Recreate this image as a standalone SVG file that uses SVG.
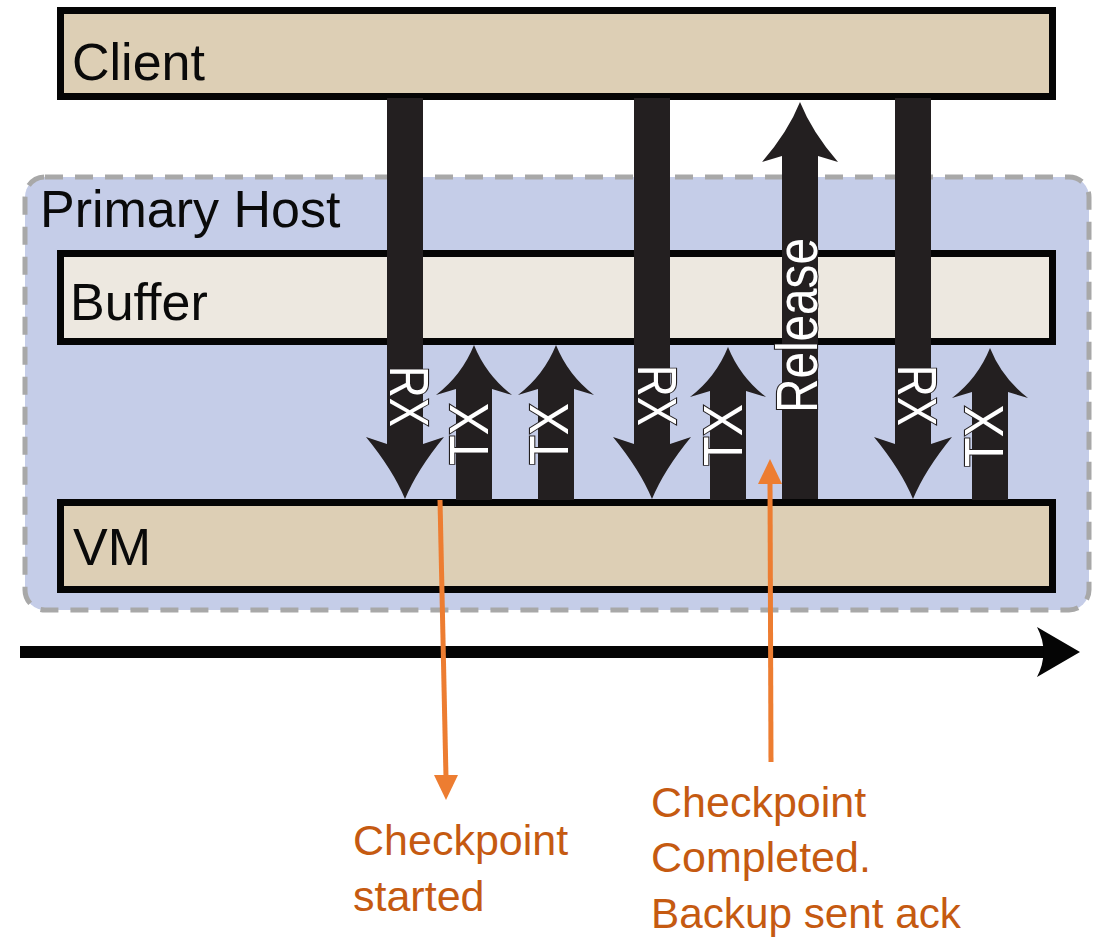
<svg xmlns="http://www.w3.org/2000/svg" width="1096" height="940" viewBox="0 0 1096 940">
  <style>
    .box { stroke: #050505; stroke-width: 7; }
    .tan { fill: #DDCFB5; }
    .light { fill: #EDE8E0; }
    .title { font-family: "Liberation Sans", Arial, sans-serif; font-size: 52px; fill: #0a0a0a; }
    .flow { fill: #231F20; }
    .flowlabel { font-family: "Liberation Sans", Arial, sans-serif; fill: #ffffff; stroke: #231F20; stroke-width: 2.2; paint-order: stroke; }
    .note { font-family: "Liberation Sans", Arial, sans-serif; font-size: 43px; fill: #C55A11; }
    .orange { stroke: #ED7D31; stroke-width: 5; fill: none; }
    .orangehead { fill: #ED7D31; }
  </style>

  <rect width="1096" height="940" fill="#ffffff"/>

  <!-- host enclosure -->
  <g id="primary-host">
    <rect x="25" y="177" width="1064" height="433" rx="20" ry="20" fill="#C5CDE8" stroke="#A8A8A8" stroke-width="5" stroke-dasharray="18 12"/>
    <text class="title" x="40" y="227">Primary Host</text>
  </g>

  <g id="client">
    <rect class="box tan" x="60.5" y="10.5" width="992" height="86"/>
    <text class="title" x="72" y="80">Client</text>
  </g>

  <g id="buffer">
    <rect class="box light" x="60.5" y="253.5" width="992" height="88"/>
    <text class="title" x="70" y="320">Buffer</text>
  </g>

  <g id="vm">
    <rect class="box tan" x="60.5" y="502.5" width="992" height="87"/>
    <text class="title" x="73" y="565">VM</text>
  </g>

  <!-- packet flows -->
  <g id="connectors">
    <!-- RX: client to VM -->
    <path class="flow" d="M387,98 H423 V444 L444,437 Q417,470 405,499 Q393,470 366,437 L387,444 Z"/>
    <path class="flow" d="M634,98 H670 V444 L691,437 Q664,470 652,499 Q640,470 613,437 L634,444 Z"/>
    <path class="flow" d="M895,98 H931 V444 L952,437 Q925,470 913,499 Q901,470 874,437 L895,444 Z"/>

    <!-- TX: VM to buffer -->
    <path class="flow" d="M456,500 V389 L436,395 Q462,375 474,345 Q486,375 512,395 L492,389 V500 Z"/>
    <path class="flow" d="M538,500 V389 L518,395 Q544,375 556,345 Q568,375 594,395 L574,389 V500 Z"/>
    <path class="flow" d="M710,500 V391 L690,397 Q716,377 728,347 Q740,377 766,397 L746,391 V500 Z"/>
    <path class="flow" d="M972,500 V392 L952,398 Q978,378 990,348 Q1002,378 1028,398 L1008,392 V500 Z"/>

    <!-- Release: buffer to client -->
    <path class="flow" d="M782,499 V156 L762,162 Q788,132 800,102 Q812,132 838,162 L818,156 V499 Z"/>

    <text class="flowlabel" font-size="56" textLength="61" lengthAdjust="spacingAndGlyphs" transform="translate(390,366) rotate(90)">RX</text>
    <text class="flowlabel" font-size="56" textLength="61" lengthAdjust="spacingAndGlyphs" transform="translate(638,365) rotate(90)">RX</text>
    <text class="flowlabel" font-size="56" textLength="61" lengthAdjust="spacingAndGlyphs" transform="translate(898,365) rotate(90)">RX</text>

    <text class="flowlabel" font-size="56" textLength="62" lengthAdjust="spacingAndGlyphs" transform="translate(488,465) rotate(-90)">TX</text>
    <text class="flowlabel" font-size="56" textLength="62" lengthAdjust="spacingAndGlyphs" transform="translate(568,465) rotate(-90)">TX</text>
    <text class="flowlabel" font-size="56" textLength="62" lengthAdjust="spacingAndGlyphs" transform="translate(742,466) rotate(-90)">TX</text>
    <text class="flowlabel" font-size="56" textLength="62" lengthAdjust="spacingAndGlyphs" transform="translate(1003,467) rotate(-90)">TX</text>

    <text class="flowlabel" font-size="58" textLength="175" lengthAdjust="spacingAndGlyphs" transform="translate(817,413) rotate(-90)">Release</text>

    <!-- time axis -->
    <rect x="20" y="646" width="1026" height="12" fill="#050505"/>
    <path d="M1037,627 L1080,652 L1037,677 Q1050,652 1037,627 Z" fill="#050505"/>

    <!-- checkpoint markers -->
    <line class="orange" x1="440" y1="500" x2="446" y2="778"/>
    <polygon class="orangehead" points="434,775 458,775 446,800"/>
    <line class="orange" x1="771" y1="762" x2="770" y2="480"/>
    <polygon class="orangehead" points="758,484 782,484 770,459"/>
  </g>

  <g id="checkpoint-started">
    <text class="note" x="353" y="855">Checkpoint</text>
    <text class="note" x="353" y="911">started</text>
  </g>

  <g id="checkpoint-completed">
    <text class="note" x="651" y="817">Checkpoint</text>
    <text class="note" x="651" y="872">Completed.</text>
    <text class="note" x="651" y="928" textLength="310" lengthAdjust="spacingAndGlyphs">Backup sent ack</text>
  </g>
</svg>
